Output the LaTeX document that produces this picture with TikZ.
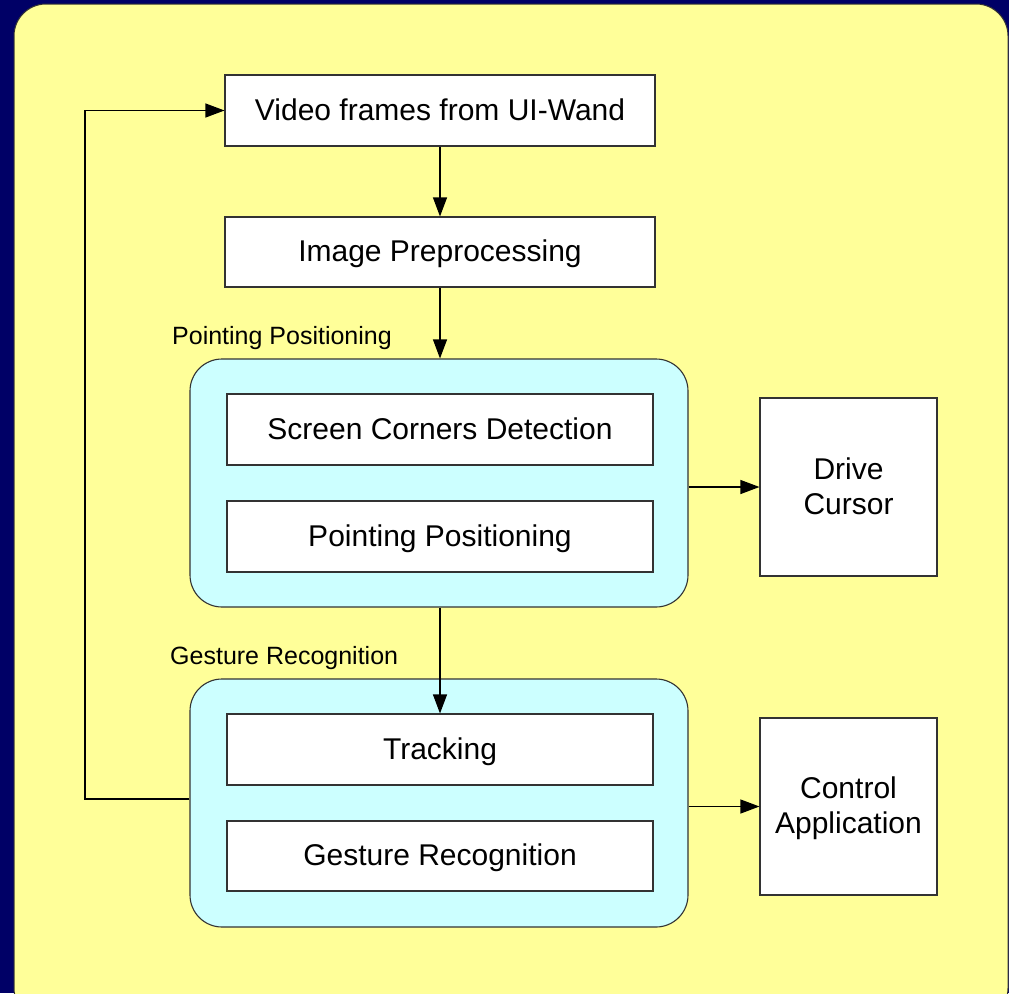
\documentclass[tikz,border=0pt]{standalone}
\usepackage{fontspec}
\setmainfont{Liberation Sans}
\usetikzlibrary{arrows.meta}
\definecolor{navy}{HTML}{000066}
\definecolor{bgyellow}{HTML}{FFFF99}
\definecolor{grpcyan}{HTML}{CCFFFF}
\definecolor{edge}{HTML}{333333}
\tikzset{
  box/.style={draw=edge, line width=1.1pt, fill=white, inner sep=0pt,
    align=center, font=\fontsize{30}{35}\selectfont, text depth=2pt},
  group/.style={draw=edge, line width=1.1pt, fill=grpcyan, rounded corners=32pt, inner sep=0pt},
  grplabel/.style={font=\fontsize{25}{30}\selectfont, inner sep=0pt, anchor=west},
  conn/.style={draw=black, line width=1.1pt, -{Triangle[length=19pt,width=14pt]}},
}
\begin{document}
\begin{tikzpicture}[x=1pt,y=1pt]
\useasboundingbox (0,0) rectangle (1009,-993);
\fill[navy] (0,0) rectangle (1009,-993);
\begin{scope}
\clip (0,0) rectangle (1009,-993);
\draw[edge, fill=bgyellow, line width=1pt, rounded corners=32pt] (14,-4) rectangle (1008,-1020);
\end{scope}

\node[box, minimum width=430pt, minimum height=71pt] (video) at (440,-110.5) {Video frames from UI-Wand};
\node[box, minimum width=430pt, minimum height=70pt] (prep) at (440,-252) {Image Preprocessing};

\node[grplabel] (l1) at (172,-338) {Pointing Positioning};
\node[group, minimum width=498pt, minimum height=248pt] (g1) at (439,-483) {};
\node[box, minimum width=426pt, minimum height=71pt] (scd) at (440,-429.5) {Screen Corners Detection};
\node[box, minimum width=426pt, minimum height=71pt] (pp) at (440,-536.5) {Pointing Positioning};

\node[grplabel] (l2) at (170,-658) {Gesture Recognition};
\node[group, minimum width=498pt, minimum height=248pt] (g2) at (439,-803) {};
\node[box, minimum width=426pt, minimum height=71pt] (trk) at (440,-749.5) {Tracking};
\node[box, minimum width=426pt, minimum height=70pt] (gr) at (440,-856) {Gesture Recognition};

\node[box, minimum width=177pt, minimum height=178pt] (drive) at (848.5,-487) {Drive\\Cursor};
\node[box, minimum width=177pt, minimum height=177pt] (ctrl) at (848.5,-806.5) {Control\\Application};

\draw[conn] (video) -- (prep);
\draw[conn] (prep.south) -- (g1.north -| prep.south);
\draw[conn] (g1.south -| trk.north) -- (trk.north);
\draw[conn] (g1.east |- drive.west) -- (drive.west);
\draw[conn] (g2.east |- ctrl.west) -- (ctrl.west);
\coordinate (fb) at (85,-799);
\draw[conn] (g2.west |- fb) -- (fb) |- (video.west);
\end{tikzpicture}
\end{document}
